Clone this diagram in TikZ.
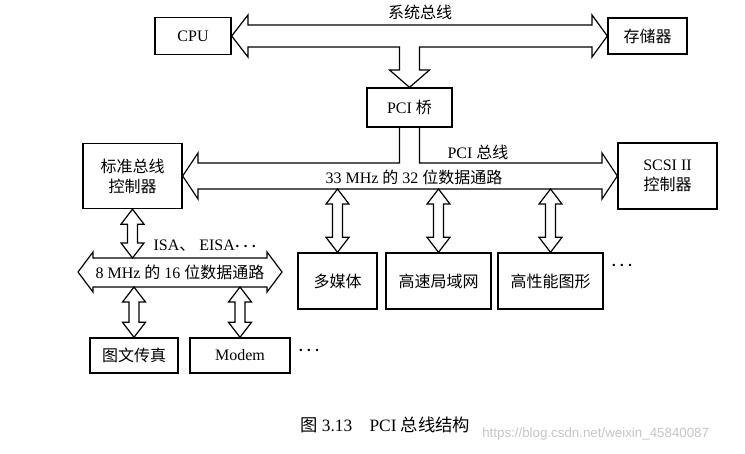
\documentclass[tikz,border=0pt]{standalone}
\usepackage{fontspec}
\setmainfont{Liberation Serif}
\newfontfamily\cjk{Noto Sans CJK SC}
\newfontfamily\wmfont{Liberation Sans}
\usetikzlibrary{calc}
\tikzset{
  box/.style={draw, line width=1pt, inner sep=0pt, align=center, font=\fontsize{12}{15}\selectfont},
  fat/.style={draw, line width=0.9pt, line join=miter},
  lbl/.style={inner sep=0pt, font=\fontsize{12}{14}\selectfont},
}
\newcommand{\mydots}{{\boldmath$\cdots$}}
\newcommand{\vfat}[2]{\draw[fat] let \p1=(#1), \p2=(#2) in
  (\x1,\y1) -- (\x1-8.6pt,\y1-11.25pt) -- (\x1-3.75pt,\y1-11.25pt) -- (\x1-3.75pt,\y2+11.25pt)
  -- (\x1-8.6pt,\y2+11.25pt) -- (\x1,\y2) -- (\x1+8.6pt,\y2+11.25pt) -- (\x1+3.75pt,\y2+11.25pt)
  -- (\x1+3.75pt,\y1-11.25pt) -- (\x1+8.6pt,\y1-11.25pt) -- cycle;}
\begin{document}
\begin{tikzpicture}[x=0.75pt,y=-0.75pt]
\useasboundingbox[fill=white] (0,0) rectangle (745,453);
% nodes
\node[box, minimum width=57pt, minimum height=27.75pt] (cpu) at (193,36) {CPU};
\node[box, minimum width=59.25pt, minimum height=27pt] (mem) at (647.5,36) {\cjk 存储器};
\node[box, minimum width=63.75pt, minimum height=29.25pt] (pci) at (409.5,107.5) {PCI {\cjk 桥}};
\node[box, minimum width=74.25pt, minimum height=48.75pt] (std) at (132.5,176) {\cjk 标准总线\\\cjk 控制器};
\node[box, minimum width=74.25pt, minimum height=49.5pt] (scsi) at (667.5,176) {SCSI II\\\cjk 控制器};
\node[box, minimum width=59.25pt, minimum height=42pt] (mm) at (337.5,281) {\cjk 多媒体};
\node[box, minimum width=78.75pt, minimum height=42pt] (lan) at (438.5,281) {\cjk 高速局域网};
\node[box, minimum width=78.75pt, minimum height=42pt] (gfx) at (550.5,281) {\cjk 高性能图形};
\node[box, minimum width=66pt, minimum height=26.25pt] (fax) at (134,355.5) {\cjk 图文传真};
\node[box, minimum width=75pt, minimum height=26.25pt] (modem) at (240,355.5) {Modem};
% bus reference lines
\coordinate (pcibot) at (0,189);
\coordinate (isatop) at (0,258);
\coordinate (isabot) at (0,287);
% system bus
\draw[fat] (cpu.east) -- (248,15) -- (248,25) -- (592,25) -- (592,15) -- (mem.west)
  -- (592,57) -- (592,47) -- (419.5,47) -- (419.5,70) -- (429.5,70) -- (pci.north)
  -- (389.5,70) -- (399.5,70) -- (399.5,47) -- (248,47) -- (248,57) -- cycle;
% PCI bus
\draw[fat] (399.5,127) -- (399.5,163) -- (198,163) -- (198,153) -- (std.east) -- (198,199)
  -- (198,189) -- (602,189) -- (602,199) -- (scsi.west) -- (602,153) -- (602,163)
  -- (419.5,163) -- (419.5,127);
% ISA bus
\draw[fat] (78,272) -- (93,252) -- (93,258) -- (267,258) -- (267,252) -- (282,272)
  -- (267,292) -- (267,287) -- (93,287) -- (93,292) -- cycle;
% vertical double arrows
\vfat{mm.north |- pcibot}{mm.north}
\vfat{lan.north |- pcibot}{lan.north}
\vfat{gfx.north |- pcibot}{gfx.north}
\vfat{std.south}{std.south |- isatop}
\vfat{fax.north |- isabot}{fax.north}
\vfat{modem.north |- isabot}{modem.north}
% labels
\node[lbl] (sysl) at (420,12) {\cjk 系统总线};
\node[lbl] (pcil) at (478,152) {PCI {\cjk 总线}};
\node[lbl] (pcibl) at (414,177) {33 MHz {\cjk 的} 32 {\cjk 位数据通路}};
\node[lbl] (isal) at (205,246) {ISA{\cjk 、} EISA\mydots};
\node[lbl] (isabl) at (180,272) {8 MHz {\cjk 的} 16 {\cjk 位数据通路}};
\node[lbl] (dots1) at (622,266) {\mydots};
\node[lbl] (dots2) at (309,351) {\mydots};
\node[lbl, anchor=west, font=\fontsize{13}{16}\selectfont] (cap) at (300,425) {{\cjk 图} 3.13\quad PCI {\cjk 总线结构}};
\node[inner sep=0pt, anchor=west, text=gray!45, font=\wmfont\fontsize{10}{12}\selectfont] (wm) at (482,434) {https://blog.csdn.net/weixin\_45840087};
\end{tikzpicture}
\end{document}
